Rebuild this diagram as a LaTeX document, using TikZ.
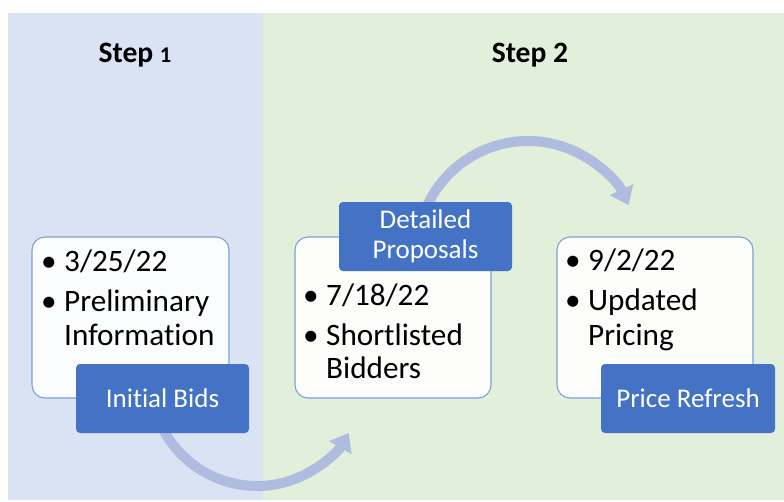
\documentclass[tikz,border=0pt]{standalone}
\usepackage{fontspec}
\setmainfont{Carlito}[Ligatures={NoCommon}]
\usetikzlibrary{arrows.meta}
\definecolor{panelblue}{HTML}{DAE3F3}
\definecolor{panelgreen}{HTML}{E2EFDA}
\definecolor{labelblue}{HTML}{4472C4}
\definecolor{arrowblue}{HTML}{AFBCE0}
\definecolor{boxline}{HTML}{7DA0D9}
\tikzset{
  steptitle/.style={font=\fontsize{29.6}{34}\selectfont\bfseries, inner sep=0pt, anchor=base},
  infobox/.style={draw=boxline, line width=1.1pt, fill=white, fill opacity=0.9, rounded corners=13pt,
    minimum height=161pt, inner sep=0pt},
  tagbox/.style={fill=labelblue, rounded corners=4pt, minimum width=173pt, minimum height=69pt,
    inner sep=0pt, text=white, align=center, font=\fontsize{27}{29.5}\selectfont},
  bulletline/.style={font=\fontsize{31.2}{36}\selectfont, inner sep=0pt, anchor=base west},
  flowarrow/.style={draw=arrowblue, line width=10pt, -{Triangle[length=17pt,width=25pt]}},
}
\newcommand{\bul}{\makebox[23pt][l]{•}}
\newcommand{\nobul}{\hspace*{23pt}}
\begin{document}
\begin{tikzpicture}[x=1pt,y=-1pt]
\useasboundingbox (0,0) rectangle (784,501);
\fill[white] (0,0) rectangle (784,501);
\fill[panelblue] (8,13) rectangle (263,500);
\fill[panelgreen] (263,13) rectangle (784,500);

\node[steptitle] (s1) at (135,62) {Step {\fontsize{22.5}{26}\selectfont 1}};
\node[steptitle] (s2) at (530,62) {Step 2};

% arrows (drawn below the labels)
\coordinate (a1s) at (160.9,424.8);
\coordinate (a2s) at (427.4,205.1);
\draw[flowarrow] (a1s) arc[start angle=155, end angle=30, radius=106];
\draw[flowarrow] (a2s) arc[start angle=205, end angle=335, radius=111];

% white boxes
\node[infobox, minimum width=197pt] (box1) at (130.5,317.5) {};
\node[infobox, minimum width=196pt] (box2) at (393,317.5) {};
\node[infobox, minimum width=196pt] (box3) at (655,317.5) {};

% box texts
\node[bulletline] (t11) at (41,271) {\bul 3/25/22};
\node[bulletline] (t12) at (41,311) {\bul Preliminary};
\node[bulletline] (t13) at (41,345) {\nobul Information};

\node[bulletline] (t21) at (303,305) {\bul 7/18/22};
\node[bulletline] (t22) at (303,345) {\bul Shortlisted};
\node[bulletline] (t23) at (303,378) {\nobul Bidders};

\node[bulletline] (t31) at (565,270) {\bul 9/2/22};
\node[bulletline] (t32) at (565,310) {\bul Updated};
\node[bulletline] (t33) at (565,345) {\nobul Pricing};

% labels
\node[tagbox] (ib) at (162.5,398.5) {Initial Bids};
\node[tagbox] (dp) at (425.5,236.5) {Detailed\\Proposals};
\node[tagbox, minimum width=174pt] (pr) at (688,398.5) {Price Refresh};
\end{tikzpicture}
\end{document}
